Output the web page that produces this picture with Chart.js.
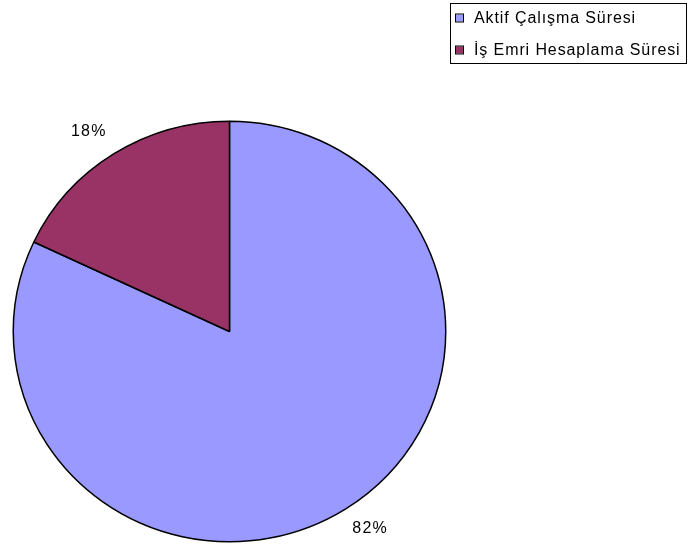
<!DOCTYPE html>
<html>
<head>
<meta charset="utf-8">
<script src="https://cdn.jsdelivr.net/npm/chart.js@4/dist/chart.umd.min.js"></script>
<style>
  html, body { margin: 0; padding: 0; background: #ffffff; }
  #wrap { width: 688px; height: 550px; position: relative; }
</style>
</head>
<body>
<div id="wrap"><canvas id="pie" width="688" height="550"></canvas></div>
<script>
// Time split between active work and work-order calculation
const categories = ['Aktif Çalışma Süresi', 'İş Emri Hesaplama Süresi'];
const shares = [82, 18];
const sliceColors = ['#9999FF', '#993366'];

const FONT = '"Liberation Sans", Arial, sans-serif';
// Slight vertical squash gives the pie its oval shape
const Y_SCALE = 210.5 / 216.5;

const ovalPie = {
  id: 'ovalPie',
  beforeDatasetsDraw(chart) {
    const arc = chart.getDatasetMeta(0).data[0];
    const ctx = chart.ctx;
    ctx.save();
    ctx.translate(arc.x, arc.y);
    ctx.scale(1, Y_SCALE);
    ctx.translate(-arc.x, -arc.y);
  },
  afterDatasetsDraw(chart) {
    chart.ctx.restore();
  }
};

// Percentage labels just outside each slice, anchored at the slice's outer corner
const percentLabels = {
  id: 'percentLabels',
  afterDatasetsDraw(chart) {
    const ctx = chart.ctx;
    const ds = chart.data.datasets[0];
    const total = ds.data.reduce((a, b) => a + b, 0);
    chart.getDatasetMeta(0).data.forEach((arc, i) => {
      const mid = (arc.startAngle + arc.endAngle) / 2;
      const c = Math.cos(mid), s = Math.sin(mid);
      const ex = arc.x + c * arc.outerRadius;
      const ey = arc.y + s * arc.outerRadius * Y_SCALE;
      const x = ex + (c < 0 ? -7 : 7);
      const y = ey + (s < 0 ? -17.5 : 12);
      ctx.save();
      ctx.font = '16px ' + FONT;
      ctx.letterSpacing = '1.2px';
      ctx.fillStyle = '#000000';
      ctx.textAlign = c < 0 ? 'right' : 'left';
      ctx.textBaseline = s < 0 ? 'alphabetic' : 'top';
      ctx.fillText(Math.round(ds.data[i] / total * 100) + '%', x, y);
      ctx.restore();
    });
  }
};

// Boxed legend in the top-right corner
const boxLegend = {
  id: 'boxLegend',
  afterDraw(chart) {
    const ctx = chart.ctx;
    const left = 450, top = 3, w = 236, h = 60;
    ctx.save();
    ctx.fillStyle = '#ffffff';
    ctx.fillRect(left, top, w, h);
    ctx.strokeStyle = '#000000';
    ctx.lineWidth = 1;
    ctx.strokeRect(left + 0.5, top + 0.5, w, h);
    ctx.font = '16px ' + FONT;
    ctx.letterSpacing = '0.9px';
    ctx.textBaseline = 'middle';
    chart.data.labels.forEach((label, i) => {
      const cy = 18 + i * 32;
      ctx.fillStyle = chart.data.datasets[0].backgroundColor[i];
      ctx.fillRect(456, cy - 3.5, 7, 7);
      ctx.strokeStyle = '#000000';
      ctx.strokeRect(455.5, cy - 4, 8, 8);
      ctx.fillStyle = '#000000';
      ctx.fillText(label, 474, cy + 1);
    });
    ctx.restore();
  }
};

new Chart(document.getElementById('pie'), {
  type: 'pie',
  data: {
    labels: categories,
    datasets: [{
      data: shares,
      backgroundColor: sliceColors,
      borderColor: '#000000',
      borderWidth: 1.5
    }]
  },
  options: {
    responsive: false,
    animation: false,
    layout: { padding: { left: 12.5, right: 241.5, top: 114.5, bottom: 1.5 } },
    plugins: {
      legend: { display: false },
      tooltip: { enabled: false },
      title: { display: false }
    }
  },
  plugins: [ovalPie, percentLabels, boxLegend]
});
</script>
</body>
</html>
